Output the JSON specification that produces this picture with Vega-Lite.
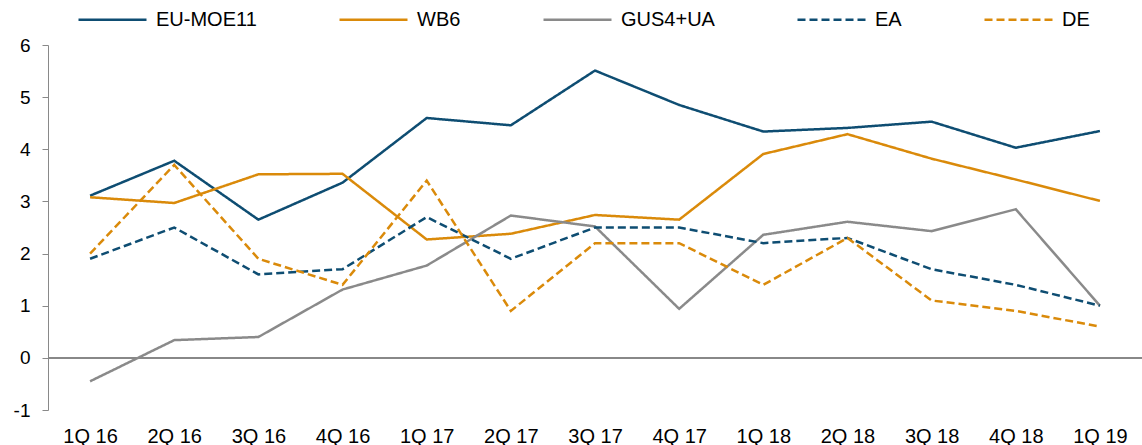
{
  "$schema": "https://vega.github.io/schema/vega-lite/v6.json",
  "width": 1094,
  "height": 365,
  "autosize": {"type": "none"},
  "padding": {"left": 48, "top": 45, "right": 0, "bottom": 35},
  "background": "white",
  "config": {"view": {"stroke": null}, "font": "Liberation Sans"},
  "data": {"values": [
    {"q":"1Q 16","s":"EU-MOE11","v":3.11},{"q":"2Q 16","s":"EU-MOE11","v":3.78},{"q":"3Q 16","s":"EU-MOE11","v":2.65},{"q":"4Q 16","s":"EU-MOE11","v":3.36},{"q":"1Q 17","s":"EU-MOE11","v":4.60},{"q":"2Q 17","s":"EU-MOE11","v":4.46},{"q":"3Q 17","s":"EU-MOE11","v":5.51},{"q":"4Q 17","s":"EU-MOE11","v":4.85},{"q":"1Q 18","s":"EU-MOE11","v":4.34},{"q":"2Q 18","s":"EU-MOE11","v":4.41},{"q":"3Q 18","s":"EU-MOE11","v":4.53},{"q":"4Q 18","s":"EU-MOE11","v":4.03},{"q":"1Q 19","s":"EU-MOE11","v":4.35},
    {"q":"1Q 16","s":"WB6","v":3.08},{"q":"2Q 16","s":"WB6","v":2.97},{"q":"3Q 16","s":"WB6","v":3.52},{"q":"4Q 16","s":"WB6","v":3.53},{"q":"1Q 17","s":"WB6","v":2.27},{"q":"2Q 17","s":"WB6","v":2.38},{"q":"3Q 17","s":"WB6","v":2.74},{"q":"4Q 17","s":"WB6","v":2.65},{"q":"1Q 18","s":"WB6","v":3.91},{"q":"2Q 18","s":"WB6","v":4.29},{"q":"3Q 18","s":"WB6","v":3.82},{"q":"4Q 18","s":"WB6","v":3.42},{"q":"1Q 19","s":"WB6","v":3.01},
    {"q":"1Q 16","s":"GUS4+UA","v":-0.45},{"q":"2Q 16","s":"GUS4+UA","v":0.34},{"q":"3Q 16","s":"GUS4+UA","v":0.40},{"q":"4Q 16","s":"GUS4+UA","v":1.31},{"q":"1Q 17","s":"GUS4+UA","v":1.77},{"q":"2Q 17","s":"GUS4+UA","v":2.73},{"q":"3Q 17","s":"GUS4+UA","v":2.52},{"q":"4Q 17","s":"GUS4+UA","v":0.94},{"q":"1Q 18","s":"GUS4+UA","v":2.36},{"q":"2Q 18","s":"GUS4+UA","v":2.61},{"q":"3Q 18","s":"GUS4+UA","v":2.43},{"q":"4Q 18","s":"GUS4+UA","v":2.85},{"q":"1Q 19","s":"GUS4+UA","v":1.0},
    {"q":"1Q 16","s":"EA","v":1.9},{"q":"2Q 16","s":"EA","v":2.5},{"q":"3Q 16","s":"EA","v":1.6},{"q":"4Q 16","s":"EA","v":1.7},{"q":"1Q 17","s":"EA","v":2.7},{"q":"2Q 17","s":"EA","v":1.9},{"q":"3Q 17","s":"EA","v":2.5},{"q":"4Q 17","s":"EA","v":2.5},{"q":"1Q 18","s":"EA","v":2.2},{"q":"2Q 18","s":"EA","v":2.3},{"q":"3Q 18","s":"EA","v":1.7},{"q":"4Q 18","s":"EA","v":1.4},{"q":"1Q 19","s":"EA","v":1.0},
    {"q":"1Q 16","s":"DE","v":2.0},{"q":"2Q 16","s":"DE","v":3.7},{"q":"3Q 16","s":"DE","v":1.9},{"q":"4Q 16","s":"DE","v":1.4},{"q":"1Q 17","s":"DE","v":3.4},{"q":"2Q 17","s":"DE","v":0.9},{"q":"3Q 17","s":"DE","v":2.2},{"q":"4Q 17","s":"DE","v":2.2},{"q":"1Q 18","s":"DE","v":1.4},{"q":"2Q 18","s":"DE","v":2.3},{"q":"3Q 18","s":"DE","v":1.1},{"q":"4Q 18","s":"DE","v":0.9},{"q":"1Q 19","s":"DE","v":0.6}
  ]},
  "layer": [
    {
      "mark": {"type": "rule", "color": "#898989", "strokeWidth": 1},
      "encoding": {
        "y": {"datum": 0, "type": "quantitative", "scale": {"domain": [-1, 6], "nice": false, "zero": false}}
      }
    },
    {
      "mark": {"type": "line", "strokeWidth": 2.5},
      "encoding": {
        "x": {
          "field": "q", "type": "ordinal",
          "sort": ["1Q 16","2Q 16","3Q 16","4Q 16","1Q 17","2Q 17","3Q 17","4Q 17","1Q 18","2Q 18","3Q 18","4Q 18","1Q 19"],
          "scale": {"type": "point", "padding": 0.5},
          "axis": {"title": null, "domain": false, "ticks": false, "labelAngle": 0, "labelFontSize": 20, "labelPadding": 16, "labelColor": "#000000"}
        },
        "y": {
          "field": "v", "type": "quantitative",
          "scale": {"domain": [-1, 6], "nice": false, "zero": false},
          "axis": {"title": null, "grid": false, "values": [-1,0,1,2,3,4,5,6], "labelExpr": "'' + datum.value", "domainColor": "#898989", "tickColor": "#898989", "tickSize": 6, "labelFontSize": 19, "labelPadding": 12, "labelColor": "#000000"}
        },
        "color": {
          "field": "s", "type": "nominal",
          "scale": {"domain": ["EU-MOE11","WB6","GUS4+UA","EA","DE"], "range": ["#0E4D72","#DA8A0A","#8A8A8A","#0E4D72","#DA8A0A"]},
          "legend": {"title": null, "orient": "none", "legendX": 29, "legendY": -61, "direction": "horizontal", "columns": 5, "symbolType": "stroke", "symbolSize": 4624, "symbolStrokeWidth": 2.5, "labelFontSize": 20, "labelColor": "#000000", "columnPadding": 77, "labelOffset": 8}
        },
        "strokeDash": {
          "field": "s", "type": "nominal",
          "scale": {"domain": ["EU-MOE11","WB6","GUS4+UA","EA","DE"], "range": [[1,0],[1,0],[1,0],[8,4],[8,4]]},
          "legend": {"title": null, "orient": "none", "legendX": 29, "legendY": -61, "direction": "horizontal", "columns": 5, "symbolType": "stroke", "symbolSize": 4624, "symbolStrokeWidth": 2.5, "labelFontSize": 20, "labelColor": "#000000", "columnPadding": 77, "labelOffset": 8}
        }
      }
    }
  ]
}
